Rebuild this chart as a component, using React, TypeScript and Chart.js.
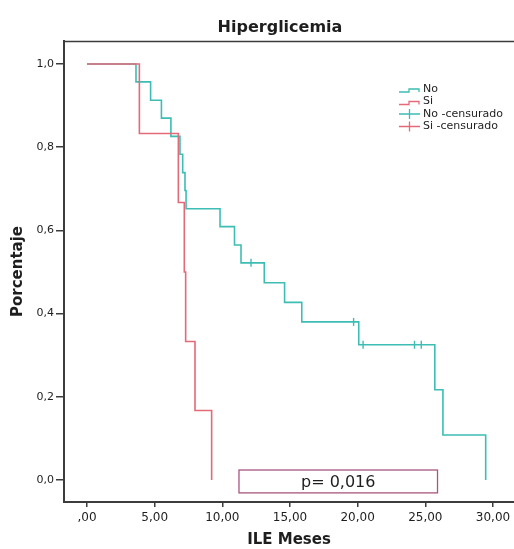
import { useEffect, useRef } from "react";
import { Chart, registerables } from "chart.js";

Chart.register(...registerables);

const chartTitle = "Hiperglicemia";
const xAxisTitle = "ILE Meses";
const yAxisTitle = "Porcentaje";
const pValueLabel = "p= 0,016";

const seriesNames = ["No", "Si"];
const censorNames = ["No -censurado", "Si -censurado"];

// Kaplan-Meier estimates (time in months, survival proportion)
const noTimes = [0, 3.62, 4.7, 5.5, 6.2, 6.87, 7.07, 7.24, 7.32, 9.83, 10.9, 11.38, 13.1, 14.6, 15.87, 20.08, 25.7, 26.3, 29.46];
const noSurvival = [1.0, 0.957, 0.913, 0.87, 0.826, 0.783, 0.739, 0.696, 0.652, 0.609, 0.565, 0.522, 0.474, 0.427, 0.38, 0.325, 0.217, 0.108, 0.0];
const siTimes = [0, 3.87, 6.75, 7.19, 7.29, 7.98, 9.21];
const siSurvival = [1.0, 0.833, 0.667, 0.5, 0.333, 0.167, 0.0];

const noCensorTimes = [12.12, 19.7, 20.4, 24.2, 24.7];
const noCensorSurvival = [0.522, 0.38, 0.325, 0.325, 0.325];
const siCensorTimes: number[] = [];
const siCensorSurvival: number[] = [];

const xTicks = [0, 5, 10, 15, 20, 25, 30];
const xTickLabels = [",00", "5,00", "10,00", "15,00", "20,00", "25,00", "30,00"];
const yTicks = [0, 0.2, 0.4, 0.6, 0.8, 1.0];
const yTickLabels = ["0,0", "0,2", "0,4", "0,6", "0,8", "1,0"];

const TEAL = "#3dbdb4";
const RED = "#e46a78";
const AXIS = "#3c3c3c";
const TEXT = "#1e1e1e";
const FONT = "'DejaVu Sans', sans-serif";

const toPoints = (xs: number[], ys: number[]) => xs.map((x, i) => ({ x, y: ys[i] }));

const decorPlugin = {
  id: "decor",
  afterDraw(chart: any) {
    const ctx = chart.ctx as CanvasRenderingContext2D;
    const { chartArea } = chart;
    const xs = chart.scales.x;
    const ys = chart.scales.y;
    ctx.save();

    // top frame line
    ctx.strokeStyle = AXIS;
    ctx.lineWidth = 1.5;
    ctx.beginPath();
    ctx.moveTo(chartArea.left, chartArea.top + 0.5);
    ctx.lineTo(chartArea.right, chartArea.top + 0.5);
    ctx.stroke();

    // title
    ctx.fillStyle = TEXT;
    ctx.font = `bold 16px ${FONT}`;
    ctx.textAlign = "center";
    ctx.textBaseline = "middle";
    ctx.fillText(chartTitle, 280, 28);

    // legend
    const colors = [TEAL, RED];
    const lx = 399;
    const rows = [89, 101.5, 114, 126.5];
    ctx.font = `11px ${FONT}`;
    ctx.textAlign = "left";
    ctx.textBaseline = "middle";
    ctx.lineWidth = 1.3;
    seriesNames.forEach((name, i) => {
      const y = rows[i];
      ctx.strokeStyle = colors[i];
      ctx.beginPath();
      ctx.moveTo(lx, y + 3);
      ctx.lineTo(lx + 10, y + 3);
      ctx.lineTo(lx + 10, y);
      ctx.lineTo(lx + 20, y);
      ctx.lineTo(lx + 20, y + 3);
      ctx.stroke();
      ctx.fillStyle = TEXT;
      ctx.fillText(name, lx + 24, y);
    });
    censorNames.forEach((name, i) => {
      const y = rows[i + 2];
      ctx.strokeStyle = colors[i];
      ctx.beginPath();
      ctx.moveTo(lx, y);
      ctx.lineTo(lx + 21, y);
      ctx.moveTo(lx + 10.5, y - 5);
      ctx.lineTo(lx + 10.5, y + 5);
      ctx.stroke();
      ctx.fillStyle = TEXT;
      ctx.fillText(name, lx + 24, y);
    });

    // p-value box
    const bx0 = xs.getPixelForValue(11.23);
    const bx1 = xs.getPixelForValue(25.9);
    const by0 = ys.getPixelForValue(0.024);
    const by1 = ys.getPixelForValue(-0.031);
    ctx.strokeStyle = "#a8567e";
    ctx.lineWidth = 1.3;
    ctx.strokeRect(bx0, by0, bx1 - bx0, by1 - by0);
    ctx.fillStyle = TEXT;
    ctx.font = `16px ${FONT}`;
    ctx.textAlign = "center";
    ctx.textBaseline = "middle";
    ctx.fillText(pValueLabel, (bx0 + bx1) / 2, (by0 + by1) / 2 + 1);

    ctx.restore();
  },
};

export default function App() {
  const canvasRef = useRef<HTMLCanvasElement | null>(null);

  useEffect(() => {
    document.body.style.margin = "0";
    const canvas = canvasRef.current;
    if (!canvas) return;
    const chart = new Chart(canvas, {
      type: "scatter",
      data: {
        datasets: [
          {
            label: seriesNames[0],
            data: toPoints(noTimes, noSurvival),
            showLine: true,
            stepped: "before",
            borderColor: TEAL,
            borderWidth: 1.6,
            pointRadius: 0,
            fill: false,
            order: 3,
          },
          {
            label: seriesNames[1],
            data: toPoints(siTimes, siSurvival),
            showLine: true,
            stepped: "before",
            borderColor: RED,
            borderWidth: 1.6,
            pointRadius: 0,
            fill: false,
            order: 2,
          },
          {
            label: censorNames[0],
            data: toPoints(noCensorTimes, noCensorSurvival),
            showLine: false,
            pointStyle: "line",
            rotation: 90,
            pointRadius: 4,
            borderColor: TEAL,
            borderWidth: 1.4,
            order: 1,
          },
          {
            label: censorNames[1],
            data: toPoints(siCensorTimes, siCensorSurvival),
            showLine: false,
            pointStyle: "line",
            rotation: 90,
            pointRadius: 4,
            borderColor: RED,
            borderWidth: 1.4,
            order: 0,
          },
        ],
      },
      options: {
        responsive: false,
        animation: false,
        devicePixelRatio: 1,
        layout: { autoPadding: false, padding: { top: 41, left: 0, right: 0, bottom: 0 } },
        plugins: {
          legend: { display: false },
          title: { display: false },
          tooltip: { enabled: false },
        },
        scales: {
          x: {
            type: "linear",
            min: -1.6995,
            max: 31.552,
            afterFit: (s: any) => {
              s.height = 47;
              s.paddingLeft = 0;
              s.paddingRight = 0;
            },
            afterBuildTicks: (s: any) => {
              s.ticks = xTicks.map((v) => ({ value: v }));
            },
            ticks: {
              callback: (_v: any, i: number) => xTickLabels[i],
              color: TEXT,
              font: { family: FONT, size: 12 },
              padding: 4,
              maxRotation: 0,
            },
            grid: {
              drawOnChartArea: false,
              drawTicks: true,
              tickLength: 5,
              color: AXIS,
              lineWidth: 1.5,
            },
            border: { display: true, color: AXIS, width: 2 },
            title: {
              display: true,
              text: xAxisTitle,
              color: TEXT,
              font: { family: FONT, size: 15, weight: "bold" },
              padding: { top: 0, bottom: 0 },
            },
          },
          y: {
            type: "linear",
            min: -0.0529,
            max: 1.0553,
            afterFit: (s: any) => {
              s.width = 64;
              s.paddingTop = 0;
              s.paddingBottom = 0;
            },
            afterBuildTicks: (s: any) => {
              s.ticks = yTicks.map((v) => ({ value: v }));
            },
            ticks: {
              callback: (_v: any, i: number) => yTickLabels[i],
              color: TEXT,
              font: { family: FONT, size: 11 },
              padding: 2,
            },
            grid: {
              drawOnChartArea: false,
              drawTicks: true,
              tickLength: 8,
              color: AXIS,
              lineWidth: 1.5,
            },
            border: { display: true, color: AXIS, width: 2 },
            title: {
              display: true,
              text: yAxisTitle,
              color: TEXT,
              font: { family: FONT, size: 15, weight: "bold" },
              padding: { top: 9, bottom: 0 },
            },
          },
        },
      },
      plugins: [decorPlugin],
    } as any);
    return () => chart.destroy();
  }, []);

  return <canvas ref={canvasRef} width={514} height={549} style={{ display: "block" }} />;
}
